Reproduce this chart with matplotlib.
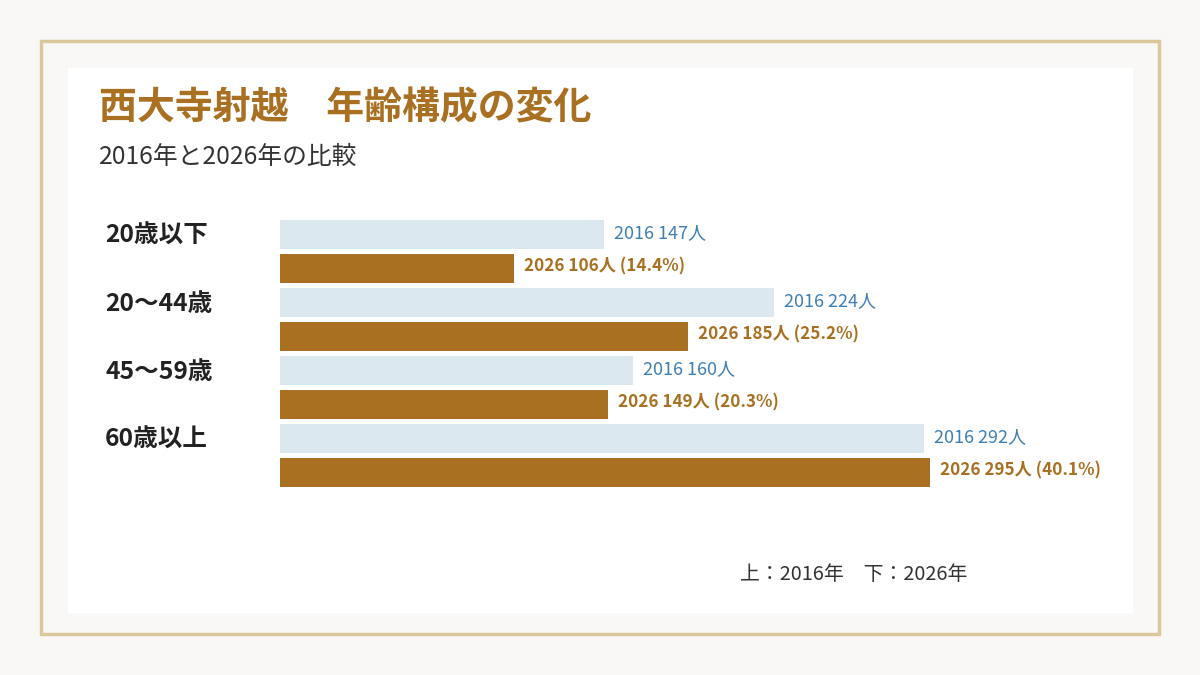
import matplotlib
matplotlib.use("Agg")
import matplotlib.pyplot as plt
from matplotlib.patches import Rectangle

plt.rcParams['font.family'] = ['Noto Sans CJK JP', 'DejaVu Sans']

# data
categories = ["20歳以下", "20～44歳", "45～59歳", "60歳以上"]
pop_2016 = [147, 224, 160, 292]
pop_2026 = [106, 185, 149, 295]
share_2026 = [14.4, 25.2, 20.3, 40.1]

BROWN = "#a87020"
LIGHT = "#dce8ef"
BLUE = "#3f80b4"
DARK = "#222222"

W, H = 1200, 675
fig = plt.figure(figsize=(12, 6.75), dpi=100)
fig.patch.set_facecolor("#f9f8f6")

def fx(px):
    return px / W

def fy(py):
    return 1 - py / H

# outer border and white panel
fig.patches.append(Rectangle((fx(41), fy(634)), fx(1118), 593 / H,
                             transform=fig.transFigure, facecolor="none",
                             edgecolor="#dcc79d", linewidth=2.5, zorder=0))
fig.patches.append(Rectangle((fx(68), fy(613)), fx(1065), 545 / H,
                             transform=fig.transFigure, facecolor="white",
                             edgecolor="none", zorder=0))

# titles
fig.text(fx(99), fy(108), "西大寺射越　年齢構成の変化", fontsize=27.3,
         fontweight="bold", color=BROWN, va="center", ha="left")
fig.text(fx(99), fy(157), "2016年と2026年の比較", fontsize=17.8,
         color="#333333", va="center", ha="left")

# bar axes: 1 y unit = 68 px, 1 x unit = 2.204 px
ax_top, ax_bot = 200, 510
ax_left, ax_right = 280, 1130
ax = fig.add_axes([fx(ax_left), fy(ax_bot), fx(ax_right - ax_left), (ax_bot - ax_top) / H])
ax.set_zorder(5)
ax.set_facecolor("none")
ax.set_xlim(0, (ax_right - ax_left) / 2.204)
ax.set_ylim((ax_bot - 251) / 68, (ax_top - 251) / 68)
ax.axis("off")

pos = list(range(len(categories)))
off = 0.25
bh = 29 / 68
ax.barh([p - off for p in pos], pop_2016, height=bh, color=LIGHT, linewidth=0)
ax.barh([p + off for p in pos], pop_2026, height=bh, color=BROWN, linewidth=0)

pad = 10 / 2.204
for p, cat, a, b, s in zip(pos, categories, pop_2016, pop_2026, share_2026):
    ax.text(a + pad, p - off - 0.02, f"2016 {a}人", color=BLUE, fontsize=13,
            va="center", ha="left")
    ax.text(b + pad, p + off - 0.02, f"2026 {b}人 ({s:.1f}%)", color=BROWN,
            fontsize=12.3, fontweight="bold", va="center", ha="left")
    ax.text(-175 / 2.204, p - off + 0.025, cat, color=DARK, fontsize=17.7,
            fontweight="bold", va="center", ha="left", clip_on=False)

fig.text(fx(740), fy(574), "上：2016年　下：2026年", fontsize=14.3,
         color="#333333", va="center", ha="left")

fig.savefig("out.png", dpi=100, facecolor=fig.get_facecolor())
